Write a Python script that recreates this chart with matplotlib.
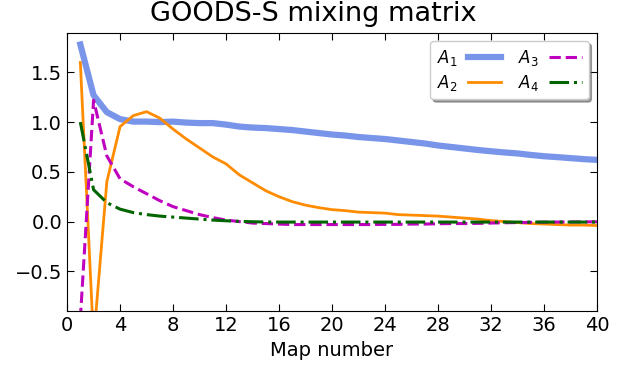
import numpy as np
import matplotlib
matplotlib.use("Agg")
import matplotlib.pyplot as plt
import matplotlib.ticker as ticker

# Mixing-matrix columns, one value per map
map_number = np.arange(1, 41)

a1 = [1.78, 1.27, 1.10, 1.03, 1.005, 1.005, 1.0, 1.005, 0.995, 0.99,
      0.99, 0.975, 0.955, 0.945, 0.94, 0.93, 0.92, 0.905, 0.89, 0.875,
      0.865, 0.85, 0.84, 0.83, 0.815, 0.80, 0.785, 0.765, 0.75, 0.735,
      0.72, 0.707, 0.695, 0.685, 0.67, 0.657, 0.648, 0.638, 0.628, 0.62]

a2 = [1.60, -1.20, 0.40, 0.955, 1.065, 1.105, 1.04, 0.93, 0.83, 0.74,
      0.65, 0.58, 0.47, 0.39, 0.31, 0.25, 0.20, 0.165, 0.14, 0.12,
      0.11, 0.095, 0.09, 0.085, 0.07, 0.065, 0.06, 0.055, 0.045, 0.035,
      0.025, 0.01, 0.0, -0.01, -0.02, -0.025, -0.03, -0.035, -0.035, -0.04]

a3 = [-0.98, 1.22, 0.66, 0.43, 0.35, 0.28, 0.21, 0.15, 0.11, 0.07,
      0.04, 0.015, 0.0, -0.015, -0.02, -0.025, -0.03, -0.03, -0.03, -0.03,
      -0.03, -0.03, -0.03, -0.028, -0.028, -0.025, -0.025, -0.022, -0.02, -0.02,
      -0.018, -0.015, -0.012, -0.01, -0.008, -0.006, -0.005, -0.004, -0.003, -0.002]

a4 = [1.0, 0.32, 0.19, 0.125, 0.09, 0.07, 0.055, 0.045, 0.035, 0.025,
      0.015, 0.008, 0.002, -0.002, -0.004, -0.005, -0.005, -0.005, -0.005, -0.005,
      -0.005, -0.005, -0.005, -0.005, -0.005, -0.005, -0.005, -0.005, -0.005, -0.005,
      -0.005, -0.005, -0.005, -0.005, -0.005, -0.005, -0.005, -0.005, -0.005, -0.005]

fig = plt.figure(figsize=(6.27, 3.66), dpi=100)
ax = fig.add_axes([0.107, 0.150, 0.845, 0.761])

ax.plot(map_number, a1, color="royalblue", alpha=0.7, linewidth=4.5, label="$A_1$")
ax.plot(map_number, a2, color="darkorange", linewidth=2, label="$A_2$")
ax.plot(map_number, a3, color="m", linewidth=2.2, linestyle="--", label="$A_3$")
ax.plot(map_number, a4, color="darkgreen", linewidth=2.2, linestyle="-.", label="$A_4$")

ax.set_xlim(0, 40)
ax.set_ylim(-0.9, 1.9)
ax.xaxis.set_major_locator(ticker.MultipleLocator(4))
ax.yaxis.set_major_locator(ticker.MultipleLocator(0.5))
ax.tick_params(direction="in", top=True, right=True, labelsize=14, length=5)

ax.set_xlabel("Map number", fontsize=14)
fig.suptitle("GOODS-S mixing matrix", fontsize=19.5, y=0.997, va="top")

ax.legend(loc="upper right", ncol=2, markerfirst=False, shadow=True,
          fontsize=12, borderaxespad=0.5, columnspacing=1.0,
          handletextpad=0.6, labelspacing=0.3)

fig.savefig("out.png", dpi=100)
